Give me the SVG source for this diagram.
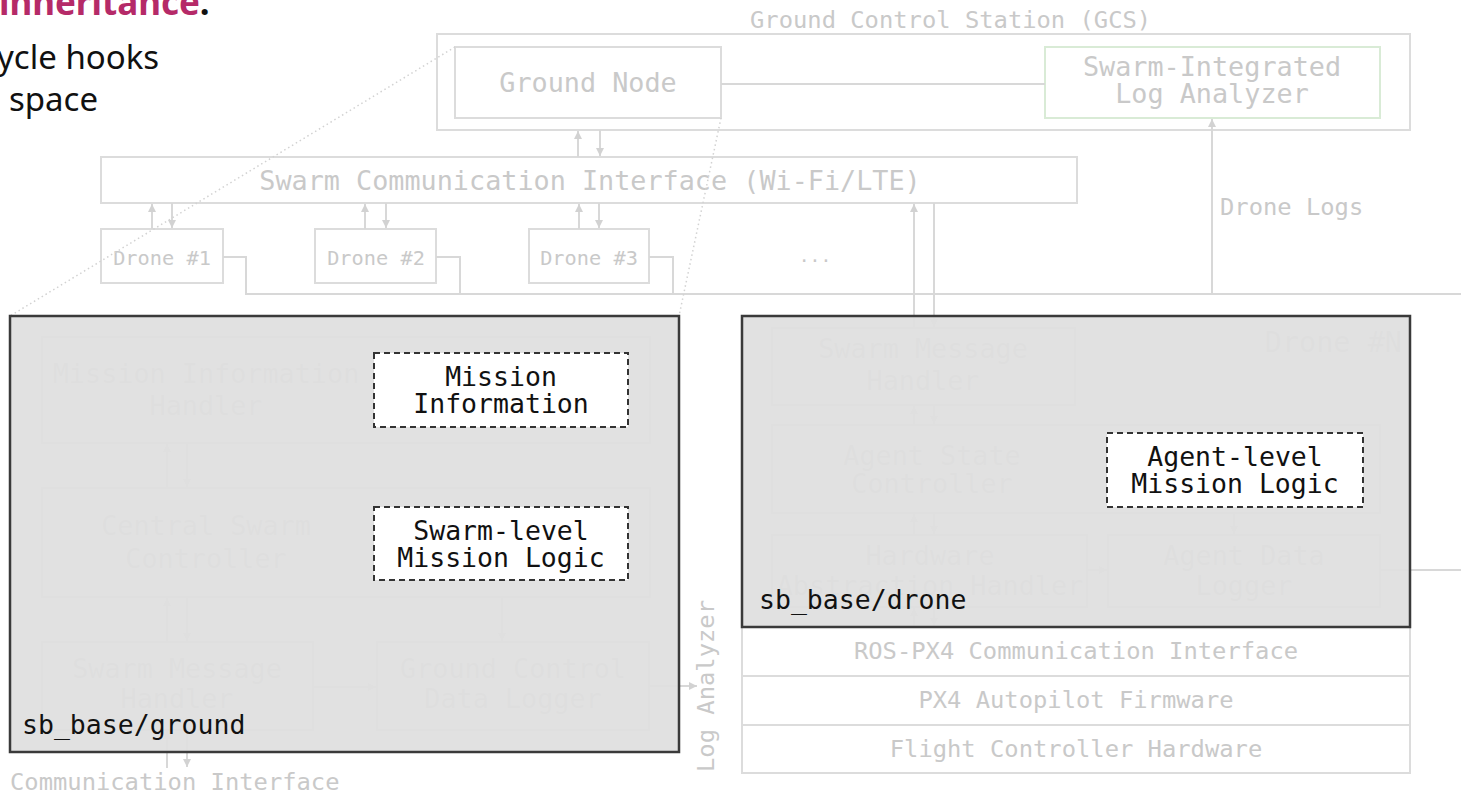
<svg xmlns="http://www.w3.org/2000/svg" width="1461" height="794" viewBox="0 0 1461 794">
  <defs>
    <marker id="ah" viewBox="0 0 8 8" refX="8" refY="4" markerWidth="8" markerHeight="8" markerUnits="userSpaceOnUse" orient="auto">
      <path d="M0,0 L8,4 L0,8 z" fill="#d2d2d2"/>
    </marker>
  </defs>
  <style>
    .mono { font-family: "DejaVu Sans Mono", "Liberation Mono", monospace; }
    .gt { fill: #c9c9c9; }
    .gbox { fill: #ffffff; stroke: #dcdcdc; stroke-width: 2; }
    .t16 { font-size: 26.8px; }
    .t14 { font-size: 23.8px; }
    .t12 { font-size: 20.3px; }
    .mid { text-anchor: middle; }
    .cn { stroke: #d8d8d8; stroke-width: 2; fill: none; }
    .ar { marker-end: url(#ah); }
    .dot { stroke: #d2d2d2; stroke-width: 1.5; stroke-dasharray: 1.5 3; fill: none; }
    .panel { fill: #dfdfdf; fill-opacity: 0.94; stroke: #3a3a3a; stroke-width: 2.5; }
    .dash { fill: #ffffff; stroke: #333333; stroke-width: 2; stroke-dasharray: 6 4; }
    .bt { fill: #111111; font-size: 26.5px; }
    .lead { font-family: "Noto Sans", "Open Sans", "Liberation Sans", sans-serif; font-size: 33px; fill: #111111; }
  </style>

  <!-- slide text fragment -->
  <g id="slide-text">
    <text class="lead" x="-1" y="15" style="font-weight:700;font-size:35px"><tspan fill="#b52a68">inheritance</tspan>.</text>
    <text class="lead" x="-3" y="69">ycle hooks</text>
    <text class="lead" x="9" y="111">space</text>
  </g>

  <!-- ground control station -->
  <g id="gcs">
    <rect class="gbox" x="437" y="34" width="973" height="96"/>
    <text class="mono gt t14" x="750" y="28">Ground Control Station (GCS)</text>
  </g>
  <g id="ground-node">
    <rect class="gbox" x="455" y="47" width="266" height="71"/>
    <text class="mono gt t16 mid" x="588" y="92">Ground Node</text>
  </g>
  <g id="log-analyzer">
    <rect class="gbox" x="1045" y="47" width="335" height="71" style="stroke:#d9ebd6"/>
    <text class="mono gt t16 mid" x="1212" y="76">Swarm-Integrated</text>
    <text class="mono gt t16 mid" x="1212" y="103">Log Analyzer</text>
  </g>
  <g id="swarm-comm">
    <rect class="gbox" x="101" y="157" width="976" height="46"/>
    <text class="mono gt t16 mid" x="590" y="190">Swarm Communication Interface (Wi-Fi/LTE)</text>
  </g>
  <g id="drone-1">
    <rect class="gbox" x="101" y="229" width="122" height="54"/>
    <text class="mono gt t12 mid" x="162" y="265">Drone #1</text>
  </g>
  <g id="drone-2">
    <rect class="gbox" x="315" y="229" width="121" height="54"/>
    <text class="mono gt t12 mid" x="376" y="265">Drone #2</text>
  </g>
  <g id="drone-3">
    <rect class="gbox" x="529" y="229" width="120" height="54"/>
    <text class="mono gt t12 mid" x="589" y="265">Drone #3</text>
  </g>
  <g id="drone-more">
    <text class="mono gt mid" x="815" y="262" style="font-size:18px">...</text>
  </g>
  <g id="drone-logs-label">
    <text class="mono gt t14" x="1220" y="215">Drone Logs</text>
  </g>

  <!-- ground node internals -->
  <g id="mission-info-handler">
    <rect class="gbox" x="42" y="337" width="608" height="106"/>
    <text class="mono gt t16 mid" x="206" y="383">Mission Information</text>
    <text class="mono gt t16 mid" x="206" y="415">Handler</text>
  </g>
  <g id="central-swarm-controller">
    <rect class="gbox" x="42" y="488" width="608" height="109"/>
    <text class="mono gt t16 mid" x="206" y="535">Central Swarm</text>
    <text class="mono gt t16 mid" x="206" y="568">Controller</text>
  </g>
  <g id="ground-swarm-msg-handler">
    <rect class="gbox" x="42" y="642" width="271" height="88"/>
    <text class="mono gt t16 mid" x="177" y="678">Swarm Message</text>
    <text class="mono gt t16 mid" x="177" y="708">Handler</text>
  </g>
  <g id="gc-data-logger">
    <rect class="gbox" x="377" y="642" width="272" height="88"/>
    <text class="mono gt t16 mid" x="513" y="678">Ground Control</text>
    <text class="mono gt t16 mid" x="513" y="708">Data Logger</text>
  </g>

  <!-- drone internals -->
  <g id="drone-n-title">
    <text class="mono gt" x="1402" y="352" style="font-size:28.5px;text-anchor:end">Drone #N</text>
  </g>
  <g id="drone-swarm-msg-handler">
    <rect class="gbox" x="772" y="328" width="303" height="77"/>
    <text class="mono gt t16 mid" x="923" y="358">Swarm Message</text>
    <text class="mono gt t16 mid" x="923" y="390">Handler</text>
  </g>
  <g id="agent-state-controller">
    <rect class="gbox" x="772" y="425" width="608" height="88"/>
    <text class="mono gt t16 mid" x="932" y="465">Agent State</text>
    <text class="mono gt t16 mid" x="932" y="493">Controller</text>
  </g>
  <g id="hw-abstraction-handler">
    <rect class="gbox" x="772" y="535" width="315" height="72"/>
    <text class="mono gt t16 mid" x="930" y="565">Hardware</text>
    <text class="mono gt t16 mid" x="930" y="595">Abstraction Handler</text>
  </g>
  <g id="agent-data-logger">
    <rect class="gbox" x="1108" y="535" width="272" height="72"/>
    <text class="mono gt t16 mid" x="1244" y="565">Agent Data</text>
    <text class="mono gt t16 mid" x="1244" y="595">Logger</text>
  </g>

  <!-- connectors -->
  <g id="connectors">
    <line class="cn" x1="721" y1="84" x2="1045" y2="84"/>
    <line class="cn ar" x1="578" y1="157" x2="578" y2="131"/>
    <line class="cn ar" x1="600" y1="130" x2="600" y2="156"/>
    <line class="cn ar" x1="152" y1="229" x2="152" y2="204"/>
    <line class="cn ar" x1="172" y1="203" x2="172" y2="228"/>
    <line class="cn ar" x1="365" y1="229" x2="365" y2="204"/>
    <line class="cn ar" x1="386" y1="203" x2="386" y2="228"/>
    <line class="cn ar" x1="579" y1="229" x2="579" y2="204"/>
    <line class="cn ar" x1="599" y1="203" x2="599" y2="228"/>
    <polyline class="cn" points="223,257 246,257 246,294"/>
    <polyline class="cn" points="436,257 460,257 460,294"/>
    <polyline class="cn" points="649,257 673,257 673,294"/>
    <line class="cn" x1="245" y1="294" x2="1461" y2="294"/>
    <line class="cn ar" x1="1212" y1="294" x2="1212" y2="119"/>
    <line class="cn ar" x1="914" y1="328" x2="914" y2="204"/>
    <line class="cn ar" x1="934" y1="203" x2="934" y2="327"/>
    <!-- ground node internal flow -->
    <line class="cn ar" x1="167" y1="488" x2="167" y2="444"/>
    <line class="cn ar" x1="187" y1="443" x2="187" y2="487"/>
    <line class="cn ar" x1="167" y1="642" x2="167" y2="598"/>
    <line class="cn ar" x1="187" y1="597" x2="187" y2="641"/>
    <line class="cn ar" x1="502" y1="597" x2="502" y2="641"/>
    <line class="cn ar" x1="313" y1="687" x2="376" y2="687"/>
    <line class="cn ar" x1="649" y1="686" x2="697" y2="686"/>
    <line class="cn ar" x1="167" y1="768" x2="167" y2="731"/>
    <line class="cn ar" x1="187" y1="730" x2="187" y2="767"/>
    <!-- drone internal flow -->
    <line class="cn ar" x1="914" y1="425" x2="914" y2="406"/>
    <line class="cn ar" x1="934" y1="405" x2="934" y2="424"/>
    <line class="cn ar" x1="914" y1="535" x2="914" y2="514"/>
    <line class="cn ar" x1="934" y1="513" x2="934" y2="534"/>
    <line class="cn ar" x1="1234" y1="513" x2="1234" y2="534"/>
    <line class="cn ar" x1="1087" y1="570" x2="1107" y2="570"/>
    <line class="cn" x1="1380" y1="570" x2="1461" y2="570"/>
    <line class="cn ar" x1="914" y1="627" x2="914" y2="608"/>
    <line class="cn ar" x1="934" y1="607" x2="934" y2="626"/>
  </g>

  <!-- zoom callout from the ground node -->
  <g id="callouts">
    <line class="dot" x1="455" y1="47" x2="10" y2="316"/>
    <line class="dot" x1="721" y1="118" x2="679" y2="316"/>
  </g>

  <!-- lower labels -->
  <g id="ground-comm-label">
    <text class="mono gt t14" x="10" y="790">Communication Interface</text>
  </g>
  <g id="log-analyzer-label">
    <text class="mono gt t14 mid" transform="translate(714,686) rotate(-90)">Log Analyzer</text>
  </g>

  <!-- drone firmware stack -->
  <g id="ros-px4">
    <rect class="gbox" x="742" y="627" width="668" height="49"/>
    <text class="mono gt t14 mid" x="1076" y="659">ROS-PX4 Communication Interface</text>
  </g>
  <g id="px4-firmware">
    <rect class="gbox" x="742" y="676" width="668" height="49"/>
    <text class="mono gt t14 mid" x="1076" y="708">PX4 Autopilot Firmware</text>
  </g>
  <g id="fc-hardware">
    <rect class="gbox" x="742" y="725" width="668" height="48"/>
    <text class="mono gt t14 mid" x="1076" y="757">Flight Controller Hardware</text>
  </g>

  <!-- sb_base/ground package -->
  <g id="sb-base-ground">
    <rect class="panel" x="10" y="316" width="669" height="436"/>
    <text class="mono bt" x="22" y="734">sb_base/ground</text>
  </g>
  <g id="mission-information">
    <rect class="dash" x="374" y="353" width="254" height="74"/>
    <text class="mono bt mid" x="501" y="386">Mission</text>
    <text class="mono bt mid" x="501" y="413">Information</text>
  </g>
  <g id="swarm-level-logic">
    <rect class="dash" x="374" y="507" width="254" height="73"/>
    <text class="mono bt mid" x="501" y="540">Swarm-level</text>
    <text class="mono bt mid" x="501" y="567">Mission Logic</text>
  </g>

  <!-- sb_base/drone package -->
  <g id="sb-base-drone">
    <rect class="panel" x="742" y="316" width="668" height="311"/>
    <text class="mono bt" x="759" y="609">sb_base/drone</text>
  </g>
  <g id="agent-level-logic">
    <rect class="dash" x="1107" y="433" width="256" height="74"/>
    <text class="mono bt mid" x="1235" y="466">Agent-level</text>
    <text class="mono bt mid" x="1235" y="493">Mission Logic</text>
  </g>
</svg>
